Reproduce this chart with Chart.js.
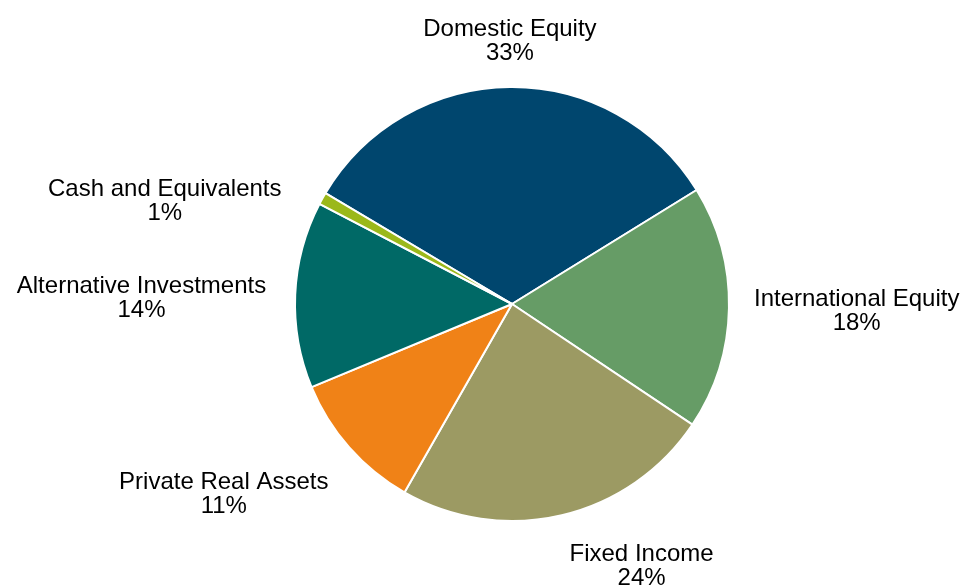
<!DOCTYPE html>
<html>
<head>
<meta charset="utf-8">
<script src="https://cdn.jsdelivr.net/npm/chart.js@4"></script>
<style>
  html, body { margin: 0; padding: 0; background: #fff; }
  #wrap { width: 966px; height: 587px; }
</style>
</head>
<body>
<div id="wrap"><canvas id="myChart" width="966" height="587"></canvas></div>
<script>
'use strict';

// data
let categories = ['Domestic Equity', 'International Equity', 'Fixed Income', 'Private Real Assets', 'Alternative Investments', 'Cash and Equivalents'];
let allocation = [32.7, 18.2, 23.9, 10.5, 13.9, 0.9];
let pctLabels = ['33%', '18%', '24%', '11%', '14%', '1%'];

let sliceColors = ['#00466e', '#669c66', '#9c9a63', '#f08217', '#006966', '#9bb81a'];
// small nudges for each label (px) so they land where the original put them
let labelNudge = [[0, 3], [0, 3], [2, 3], [-2, 14], [-4, 6], [-19, 27]];

const ctx = document.getElementById('myChart').getContext('2d');

const outsideLabels = {
  id: 'outsideLabels',
  afterDraw(chart) {
    let c = chart.ctx;
    let meta = chart.getDatasetMeta(0);
    c.save();
    c.font = '24px "Liberation Sans", Arial, sans-serif';
    c.fillStyle = '#000';
    c.textBaseline = 'middle';
    let lineH = 24;
    for (let i = 0; i < meta.data.length; i++) {
      let arc = meta.data[i];
      let mid = (arc.startAngle + arc.endAngle) / 2;
      let r = arc.outerRadius + 25;
      let ax = arc.x + Math.cos(mid) * r;
      let ay = arc.y + Math.sin(mid) * r;
      let lines = [categories[i], pctLabels[i]];
      let w = Math.max(c.measureText(lines[0]).width, c.measureText(lines[1]).width);
      let h = lineH * 2;
      let cosA = Math.cos(mid), sinA = Math.sin(mid);
      // horizontal: centre near top/bottom, otherwise hang off the side
      let cx;
      if (Math.abs(cosA) < 0.1) cx = ax;
      else if (cosA > 0) cx = ax + w / 2;
      else cx = ax - w / 2;
      let cy = ay + sinA * h / 2;
      cx += labelNudge[i][0];
      cy += labelNudge[i][1];
      c.textAlign = 'center';
      c.fillText(lines[0], cx, cy - lineH / 2);
      c.fillText(lines[1], cx, cy + lineH / 2);
    }
    c.restore();
  }
};

new Chart(ctx, {
  type: 'pie',
  data: {
    labels: categories,
    datasets: [{
      data: allocation,
      backgroundColor: sliceColors,
      borderColor: '#ffffff',
      borderWidth: 2
    }]
  },
  options: {
    responsive: false,
    animation: false,
    rotation: -59.3,
    layout: {
      padding: { top: 86, bottom: 65, left: 294, right: 236 }
    },
    plugins: {
      legend: { display: false },
      tooltip: { enabled: false }
    }
  },
  plugins: [outsideLabels]
});
</script>
</body>
</html>
